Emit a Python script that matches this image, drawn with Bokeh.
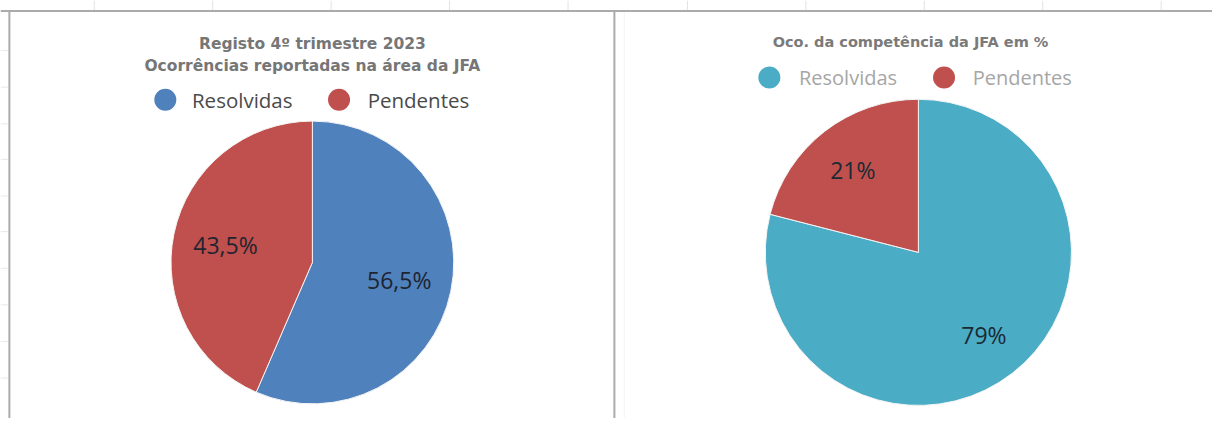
import math
from bokeh.plotting import figure
from bokeh.models import Range1d, ColumnDataSource
from bokeh.core.properties import value
from bokeh.embed import file_html
from bokeh.resources import INLINE

# ---- data ----
categories = ["Resolvidas", "Pendentes"]
left_values = [56.5, 43.5]
left_labels = ["56,5%", "43,5%"]
right_values = [79, 21]
right_labels = ["79%", "21%"]
left_colors = ["#4F81BD", "#C0504D"]
right_colors = ["#4BACC6", "#C0504D"]
left_title = ["Registo 4º trimestre 2023", "Ocorrências reportadas na área da JFA"]
right_title = "Oco. da competência da JFA em %"

# layout space = reference picture (1228 x 434), mapped by Bokeh scales
RW, RH = 1228, 434
W, H = 1212, 418
SCALE = (W / RW + H / RH) / 2.0


def X(px):
    return px


def Y(py):
    return RH - py


p = figure(width=W, height=H, x_range=Range1d(0, RW), y_range=Range1d(0, RH),
           output_backend="svg", toolbar_location=None, min_border=0)
p.axis.visible = False
p.grid.visible = False
p.outline_line_color = None
p.background_fill_color = "white"
p.border_fill_color = "white"

FONT = value("Open Sans")
TFONT = value("DejaVu Sans")

# ---- frame (spreadsheet-like) ----
col_ticks = [95, 215, 335, 455, 575, 696, 816, 936, 1056, 1176]
p.segment(x0=[X(c) for c in col_ticks], y0=Y(0), x1=[X(c) for c in col_ticks], y1=Y(10),
          line_color="#e2e2e2", line_width=1)
row_ticks = [52, 90, 128, 165, 203, 240, 278, 316, 354, 392]
p.segment(x0=X(0), y0=[Y(r) for r in row_ticks], x1=X(8), y1=[Y(r) for r in row_ticks],
          line_color="#e9e9e9", line_width=1)
p.segment(x0=[X(0)], y0=[Y(11)], x1=[X(RW)], y1=[Y(11)], line_color="#ababab", line_width=2)
p.segment(x0=[X(9), X(622)], y0=[Y(11), Y(11)], x1=[X(9), X(622)], y1=[Y(RH), Y(RH)],
          line_color="#ababab", line_width=2)
p.segment(x0=[X(632)], y0=[Y(12)], x1=[X(632)], y1=[Y(RH)], line_color="#f3f3f3", line_width=1)


def pie(values, labels, colors, cx, cy, r, lab_frac, lab_color):
    total = float(sum(values))
    starts, ends, lx, ly = [], [], [], []
    acc = 0.0
    for v in values:
        a0 = math.pi / 2 - 2 * math.pi * acc / total
        a1 = math.pi / 2 - 2 * math.pi * (acc + v) / total
        starts.append(a0)
        ends.append(a1)
        mid = (a0 + a1) / 2
        lx.append(cx + lab_frac * r * math.cos(mid))
        ly.append(cy + lab_frac * r * math.sin(mid))
        acc += v
    src = ColumnDataSource(dict(start=starts, end=ends, color=colors))
    p.wedge(x=cx, y=cy, radius=r * SCALE, radius_units="screen", start_angle="start",
            end_angle="end", direction="clock", fill_color="color",
            line_color="#f4f4f4", line_width=1, source=src)
    p.text(x=lx, y=ly, text=labels, text_font=FONT, text_font_size="23px",
           text_color=lab_color, text_align="center", text_baseline="middle")


pie(left_values, left_labels, left_colors, X(316), Y(272), 145, 0.62, "#1e2430")
pie(right_values, right_labels, right_colors, X(930), Y(261.5), 157, 0.69, "#1a2a33")

# ---- titles ----
p.text(x=[X(316), X(316)], y=[Y(45), Y(68)], text=left_title, text_font=TFONT,
       text_font_size="15.5px", text_font_style="bold", text_color="#767676",
       text_align="center", text_baseline="middle")
p.text(x=[X(922)], y=[Y(43)], text=[right_title], text_font=TFONT,
       text_font_size="14.5px", text_font_style="bold", text_color="#7a7a7a",
       text_align="center", text_baseline="middle")


# ---- legends ----
def legend(cats, colors, mx, my, tx, size, tcolor, fsize):
    p.scatter(x=[X(m) for m in mx], y=Y(my), size=size, marker="circle",
              fill_color=colors, line_color=None)
    p.text(x=[X(t) for t in tx], y=Y(my), text=cats, text_font=FONT,
           text_font_size=fsize, text_color=tcolor, text_align="left",
           text_baseline="middle")


legend(categories, left_colors, [167, 343], 103, [194, 372], 22, "#4a4a4a", "20.5px")
legend(categories, right_colors, [779, 956], 80, [809, 985], 22, "#a6a6a6", "20px")

open("out.html", "w").write(file_html(p, INLINE))
